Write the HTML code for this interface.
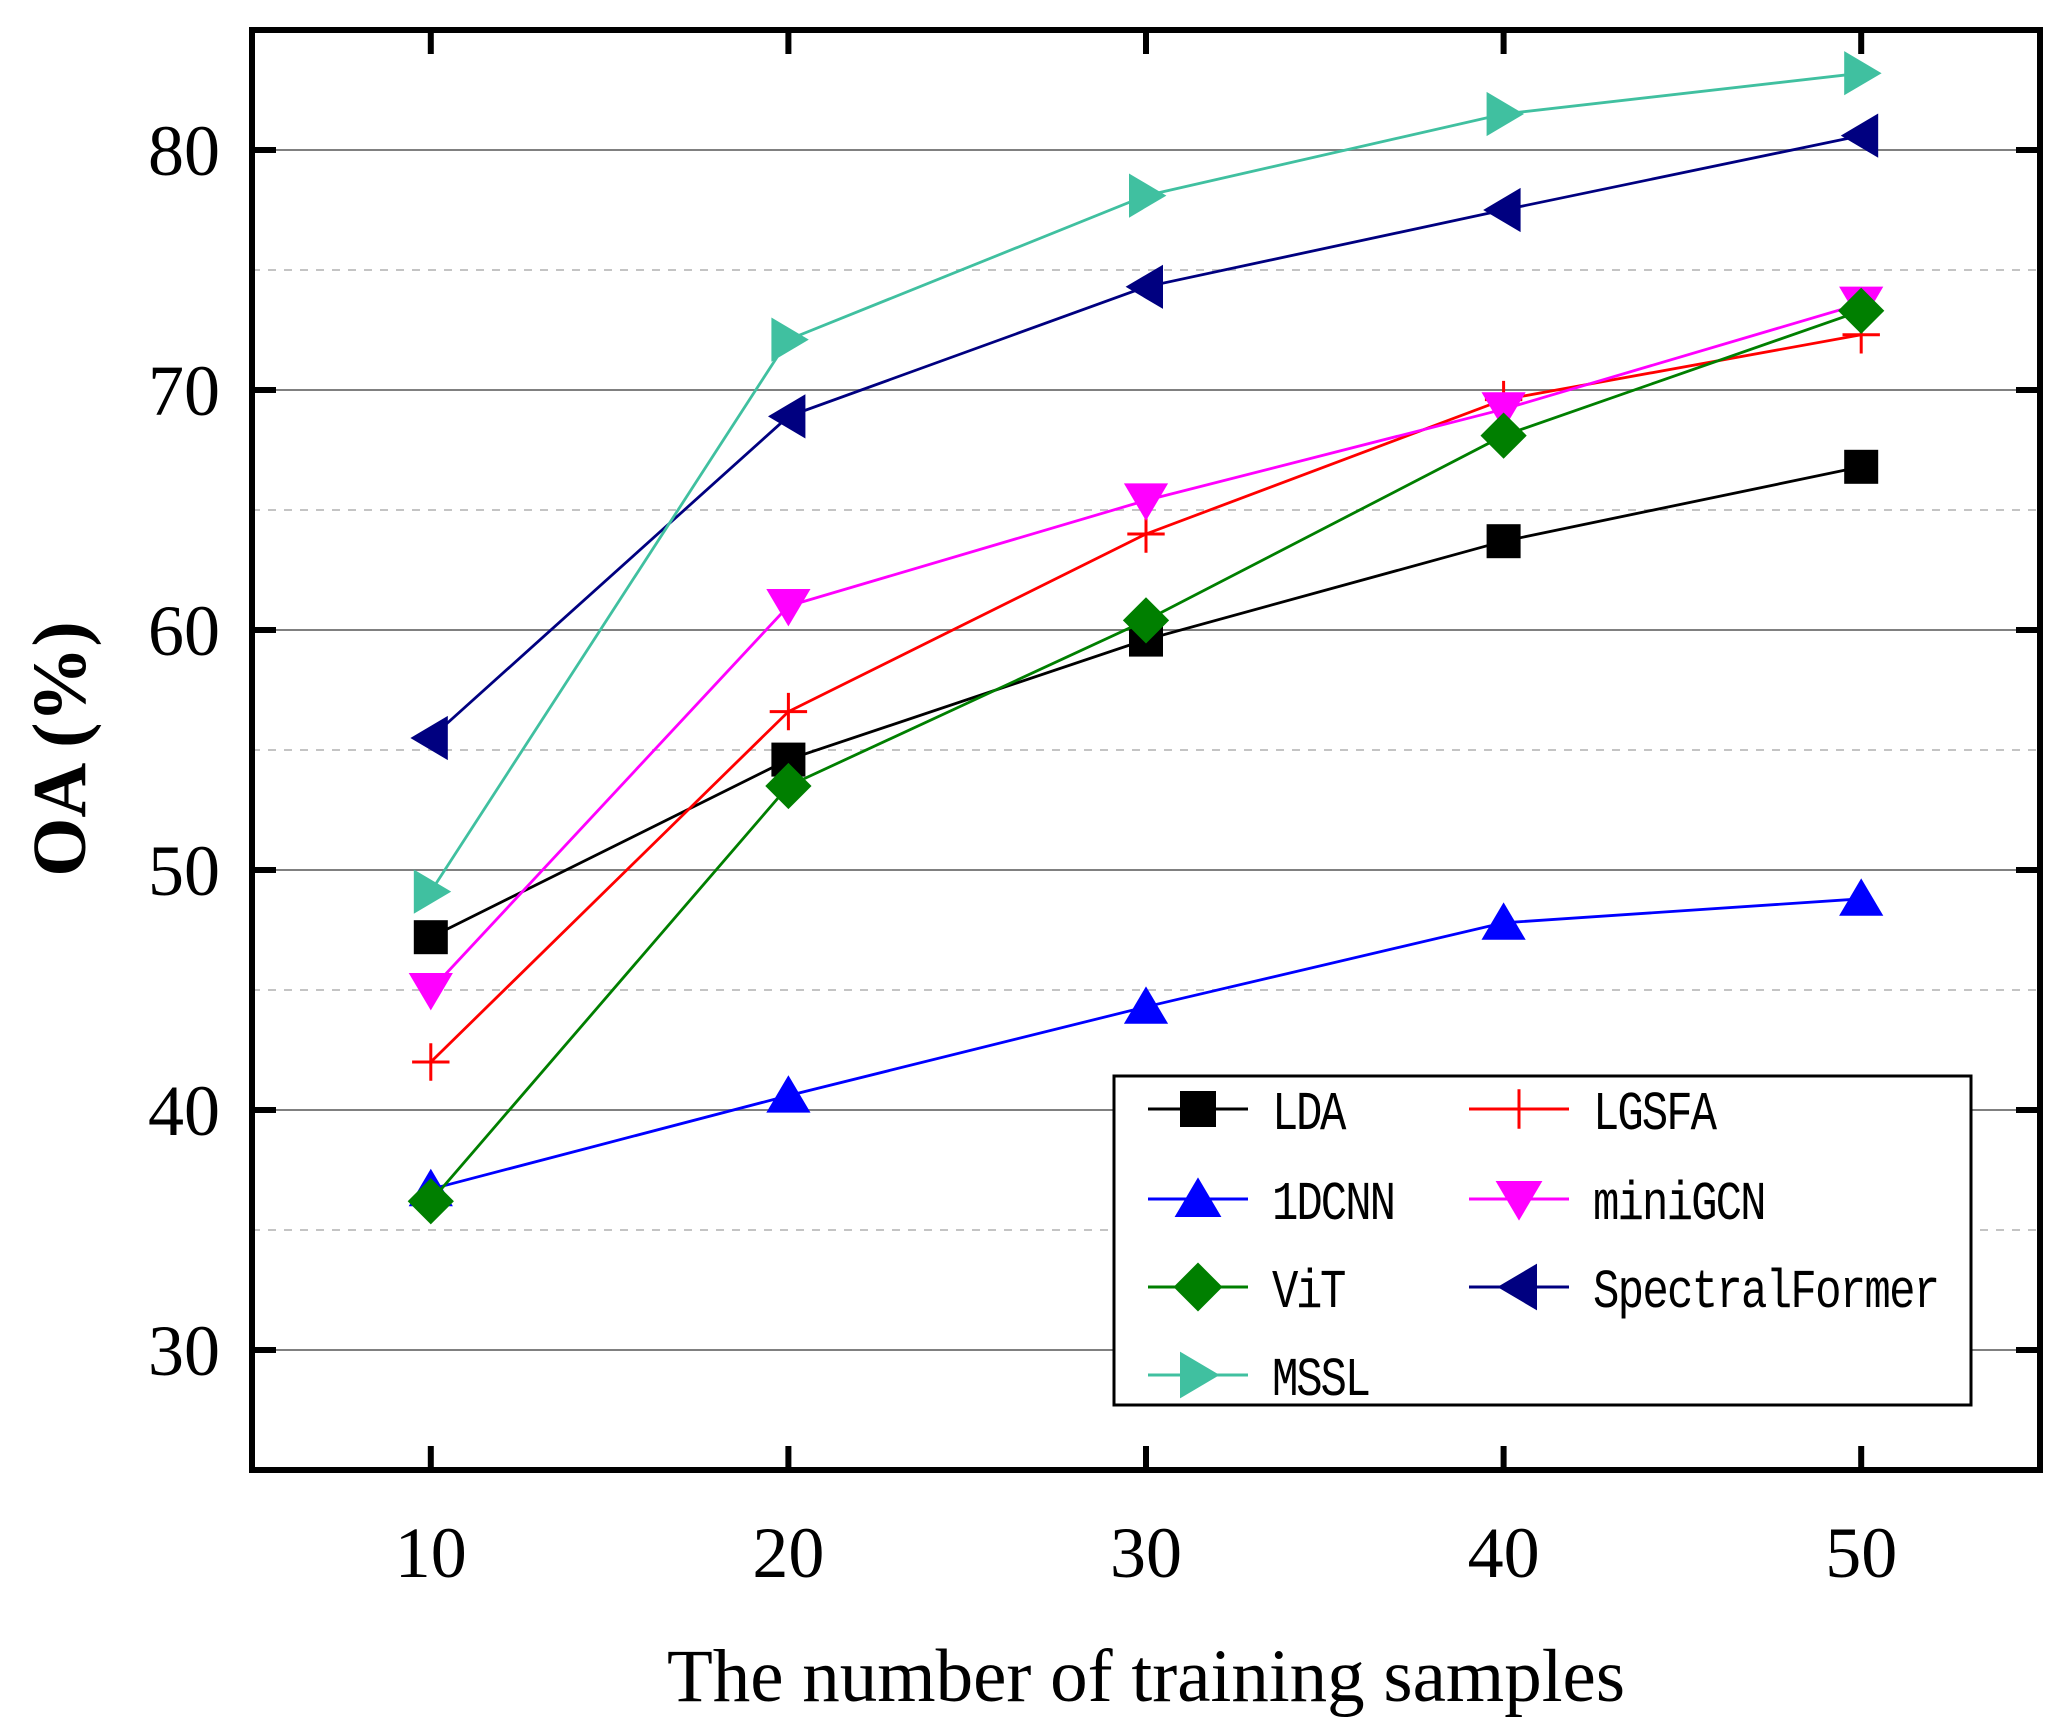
<!DOCTYPE html>
<html><head><meta charset="utf-8"><style>
html,body{margin:0;padding:0;background:#fff;}
svg{display:block;}
</style></head><body>
<svg id="chart" width="2069" height="1735" viewBox="0 0 2069 1735" xmlns="http://www.w3.org/2000/svg">
<rect x="0" y="0" width="2069" height="1735" fill="#fff"/>
<g id="grid"></g>
<g id="series"></g>
<g id="axes"></g>
<g id="legend"></g>
<text x="60" y="749" transform="rotate(-90 60 749)" text-anchor="middle" dominant-baseline="central" font-family="Liberation Serif, serif" font-weight="bold" font-size="76">OA (%)</text>
<text x="1146" y="1701" text-anchor="middle" font-family="Liberation Serif, serif" font-size="75">The number of training samples</text>
</svg>
<script>
const categories = [10, 20, 30, 40, 50];
const xTicks = [10, 20, 30, 40, 50];
const yTicks = [30, 40, 50, 60, 70, 80];
const yMinorGrid = [35, 45, 55, 65, 75];
const seriesNames = ["LDA", "LGSFA", "1DCNN", "miniGCN", "ViT", "SpectralFormer", "MSSL"];
const ldaValues = [47.2, 54.6, 59.6, 63.7, 66.8];
const lgsfaValues = [42.0, 56.6, 64.0, 69.6, 72.3];
const cnnValues = [36.7, 40.6, 44.3, 47.8, 48.8];
const minigcnValues = [45.0, 61.0, 65.4, 69.2, 73.6];
const vitValues = [36.2, 53.5, 60.4, 68.1, 73.3];
const sfValues = [55.5, 68.9, 74.3, 77.5, 80.6];
const msslValues = [49.1, 72.1, 78.1, 81.5, 83.2];

const NS = "http://www.w3.org/2000/svg";
const L = 252, R = 2040, T = 30, B = 1470;
const X0 = 5, X1 = 55, Y0 = 25, Y1 = 85;
function xs(v){ return L + (v - X0) / (X1 - X0) * (R - L); }
function ys(v){ return B - (v - Y0) / (Y1 - Y0) * (B - T); }
function mk(tag, attrs, parent){
  const e = document.createElementNS(NS, tag);
  for (const k in attrs) e.setAttribute(k, attrs[k]);
  parent.appendChild(e);
  return e;
}
const grid = document.getElementById('grid');
const axes = document.getElementById('axes');
const seriesG = document.getElementById('series');
const legend = document.getElementById('legend');

yTicks.forEach(v => {
  const l = mk('line', {x1: L, x2: R, y1: ys(v), y2: ys(v), stroke: '#808080', 'stroke-width': 2}, grid);
  
  
});
yMinorGrid.forEach(v => {
  const l = mk('line', {x1: L, x2: R, y1: ys(v), y2: ys(v), stroke: '#c4c4c4', 'stroke-width': 2, 'stroke-dasharray': '8 8'}, grid);
  
  
});

function marker(type, x, y, color, parent, s){
  let e;
  if (type === 'square') e = mk('rect', {x: x - s*0.5, y: y - s*0.5, width: s, height: s, fill: color}, parent);
  else if (type === 'up') e = mk('polygon', {points: `${x},${y - s*0.6} ${x - s*0.65},${y + s*0.5} ${x + s*0.65},${y + s*0.5}`, fill: color}, parent);
  else if (type === 'down') e = mk('polygon', {points: `${x},${y + s*0.6} ${x - s*0.65},${y - s*0.5} ${x + s*0.65},${y - s*0.5}`, fill: color}, parent);
  else if (type === 'left') e = mk('polygon', {points: `${x - s*0.6},${y} ${x + s*0.5},${y - s*0.65} ${x + s*0.5},${y + s*0.65}`, fill: color}, parent);
  else if (type === 'right') e = mk('polygon', {points: `${x + s*0.6},${y} ${x - s*0.5},${y - s*0.65} ${x - s*0.5},${y + s*0.65}`, fill: color}, parent);
  else if (type === 'diamond') e = mk('polygon', {points: `${x},${y - s*0.68} ${x + s*0.68},${y} ${x},${y + s*0.68} ${x - s*0.68},${y}`, fill: color}, parent);
  else if (type === 'plus') e = mk('path', {d: `M${x},${y - s*0.55}V${y + s*0.55}M${x - s*0.55},${y}H${x + s*0.55}`, stroke: color, 'stroke-width': 3, fill: 'none'}, parent);
  return e;
}

const seriesDefs = [
  {name: seriesNames[0], vals: ldaValues, color: '#000000', m: 'square'},
  {name: seriesNames[1], vals: lgsfaValues, color: '#ff0000', m: 'plus'},
  {name: seriesNames[2], vals: cnnValues, color: '#0000ff', m: 'up'},
  {name: seriesNames[3], vals: minigcnValues, color: '#ff00ff', m: 'down'},
  {name: seriesNames[4], vals: vitValues, color: '#007f00', m: 'diamond'},
  {name: seriesNames[5], vals: sfValues, color: '#000080', m: 'left'},
  {name: seriesNames[6], vals: msslValues, color: '#40c0a0', m: 'right'}
];
seriesDefs.forEach(sd => {
  const g = mk('g', {}, seriesG);
  
  
  const pts = sd.vals.map((v, i) => `${xs(categories[i])},${ys(v)}`).join(' ');
  const pl = mk('polyline', {points: pts, fill: 'none', stroke: sd.color, 'stroke-width': 2.8}, g);
  
  
  sd.vals.forEach((v, i) => {
    const e = marker(sd.m, xs(categories[i]), ys(v), sd.color, g, 34);
    
    
  });
});

const frame = mk('rect', {x: L, y: T, width: R - L, height: B - T, fill: 'none', stroke: '#000', 'stroke-width': 6}, axes);


xTicks.forEach(v => {
  const x = xs(v);
  const t1 = mk('line', {x1: x, x2: x, y1: B, y2: B - 24, stroke: '#000', 'stroke-width': 6}, axes);
  
  
  const t2 = mk('line', {x1: x, x2: x, y1: T, y2: T + 24, stroke: '#000', 'stroke-width': 6}, axes);
  
  
  const lb = mk('text', {x: x, y: 1577, 'text-anchor': 'middle', 'font-family': 'Liberation Serif, serif', 'font-size': 72}, axes);
  lb.textContent = String(v);
  
  
});
yTicks.forEach(v => {
  const y = ys(v);
  const t1 = mk('line', {x1: L, x2: L + 24, y1: y, y2: y, stroke: '#000', 'stroke-width': 6}, axes);
  
  
  const t2 = mk('line', {x1: R, x2: R - 24, y1: y, y2: y, stroke: '#000', 'stroke-width': 6}, axes);
  
  
  const lb = mk('text', {x: 220, y: y + 25, 'text-anchor': 'end', 'font-family': 'Liberation Serif, serif', 'font-size': 72}, axes);
  lb.textContent = String(v);
  
  
});

const lbox = mk('rect', {x: 1114, y: 1076, width: 857, height: 329, fill: '#fff', stroke: '#000', 'stroke-width': 3}, legend);


const legendPos = [[0,0],[1,0],[0,1],[1,1],[0,2],[1,2],[0,3]];
const rowY = [1109, 1199, 1287, 1375];
const colLine = [1148, 1469];
seriesDefs.forEach((sd, i) => {
  const c = legendPos[i][0], r = legendPos[i][1];
  const y = rowY[r], x0 = colLine[c];
  const g = mk('g', {}, legend);
  
  
  mk('line', {x1: x0, x2: x0 + 100, y1: y, y2: y, stroke: sd.color, 'stroke-width': 3}, g);
  marker(sd.m, x0 + 50, y, sd.color, g, 36);
  const t = mk('text', {x: x0 + 124, y: y + 16, 'font-family': 'Liberation Mono, monospace', 'font-size': 44}, g);
  t.setAttribute('transform', `translate(0 ${y}) scale(1 1.25) translate(0 ${-y})`);
  t.setAttribute('textLength', String(sd.name.length * 24.8));
  t.textContent = sd.name;
});
</script>
</body></html>
